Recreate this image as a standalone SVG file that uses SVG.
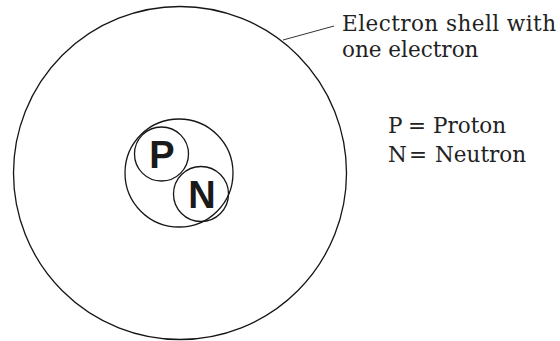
<svg xmlns="http://www.w3.org/2000/svg" width="560" height="341" viewBox="0 0 560 341">
  <style>
    .ring { fill: none; stroke: #161616; stroke-width: 1.3; }
    .lbl { font-family: "DejaVu Serif", "Liberation Serif", serif; font-size: 21.5px; fill: #222; }
    .nuc { font-family: "Liberation Sans", Arial, sans-serif; font-weight: bold; font-size: 38px; fill: #1a1a1a; text-anchor: middle; }
  </style>
  <rect width="560" height="341" fill="#ffffff"/>
  <g id="shell">
    <circle class="ring" cx="180" cy="173" r="166.5"/>
  </g>
  <g id="nucleus">
    <circle class="ring" cx="179" cy="173" r="54"/>
  </g>
  <g id="proton">
    <circle class="ring" cx="161.5" cy="154" r="27"/>
    <text class="nuc" x="162" y="168">P</text>
  </g>
  <g id="neutron">
    <circle class="ring" cx="201" cy="194" r="27.5"/>
    <text class="nuc" x="202" y="208">N</text>
  </g>
  <g id="connectors">
    <line x1="283" y1="40" x2="334" y2="26" stroke="#333" stroke-width="1"/>
  </g>
  <g id="shell-label">
    <text class="lbl" x="342" y="31" textLength="214" lengthAdjust="spacing">Electron shell with</text>
    <text class="lbl" x="342" y="57">one electron</text>
  </g>
  <g id="legend">
    <text class="lbl" x="388" y="133">P</text>
    <text class="lbl" x="408" y="133">=</text>
    <text class="lbl" x="433" y="133">Proton</text>
    <text class="lbl" x="388" y="162">N</text>
    <text class="lbl" x="409" y="162">=</text>
    <text class="lbl" x="435" y="162">Neutron</text>
  </g>
</svg>
